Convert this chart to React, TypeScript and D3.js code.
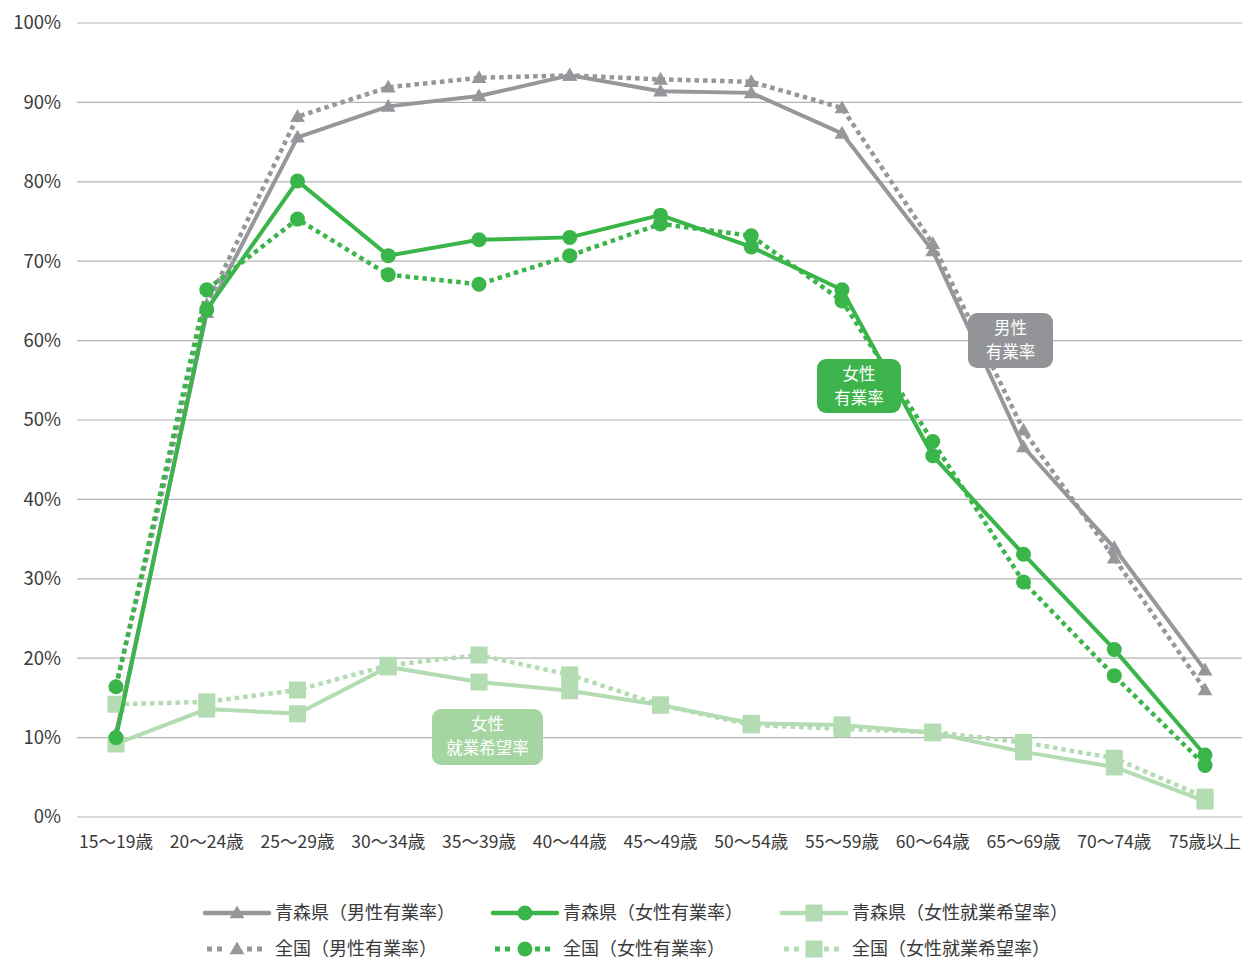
import React from "react";
import * as d3 from "d3";

const ageGroups = ["15～19歳", "20～24歳", "25～29歳", "30～34歳", "35～39歳", "40～44歳", "45～49歳", "50～54歳", "55～59歳", "60～64歳", "65～69歳", "70～74歳", "75歳以上"];

const aomoriMale = [10.5, 63.5, 85.6, 89.5, 90.8, 93.4, 91.4, 91.2, 86.1, 71.3, 46.6, 33.9, 18.5];
const nationalMale = [16.5, 64.5, 88.2, 91.9, 93.1, 93.4, 92.9, 92.6, 89.3, 72.2, 48.7, 32.6, 16.0];
const aomoriFemale = [10.0, 63.9, 80.1, 70.7, 72.7, 73.0, 75.8, 71.8, 66.4, 45.5, 33.1, 21.1, 7.8];
const nationalFemale = [16.4, 66.4, 75.3, 68.3, 67.1, 70.7, 74.7, 73.2, 65.0, 47.3, 29.6, 17.8, 6.5];
const aomoriFemaleDesire = [9.2, 13.6, 13.0, 18.9, 17.0, 15.9, 14.1, 11.8, 11.6, 10.6, 8.2, 6.3, 2.0];
const nationalFemaleDesire = [14.2, 14.5, 16.0, 19.1, 20.4, 17.9, 14.1, 11.6, 11.1, 10.7, 9.4, 7.4, 2.5];

const yTicks = [0, 10, 20, 30, 40, 50, 60, 70, 80, 90, 100];

const GRAY = "#96979a";
const GREEN = "#3ab54a";
const LIGHT = "#b3dcb3";

type Marker = "triangle" | "circle" | "square";
interface Series {
  name: string;
  values: number[];
  color: string;
  dotted: boolean;
  marker: Marker;
}

const series: Series[] = [
  { name: "青森県（男性有業率）", values: aomoriMale, color: GRAY, dotted: false, marker: "triangle" },
  { name: "全国（男性有業率）", values: nationalMale, color: GRAY, dotted: true, marker: "triangle" },
  { name: "青森県（女性就業希望率）", values: aomoriFemaleDesire, color: LIGHT, dotted: false, marker: "square" },
  { name: "全国（女性就業希望率）", values: nationalFemaleDesire, color: LIGHT, dotted: true, marker: "square" },
  { name: "青森県（女性有業率）", values: aomoriFemale, color: GREEN, dotted: false, marker: "circle" },
  { name: "全国（女性有業率）", values: nationalFemale, color: GREEN, dotted: true, marker: "circle" },
];

const legendOrder = [
  "青森県（男性有業率）", "青森県（女性有業率）", "青森県（女性就業希望率）",
  "全国（男性有業率）", "全国（女性有業率）", "全国（女性就業希望率）",
];

const FONT = "'Noto Sans CJK JP', 'Noto Sans', sans-serif";

function MarkerShape({ kind, x, y, color }: { kind: Marker; x: number; y: number; color: string }) {
  if (kind === "circle") return <circle cx={x} cy={y} r={7.5} fill={color} />;
  if (kind === "square") return <rect x={x - 8.5} y={y - 8.5} width={17} height={17} fill={color} />;
  const s = d3.symbol().type(d3.symbolTriangle).size(95)();
  return <path d={s || ""} transform={`translate(${x},${y + 1})`} fill={color} />;
}

function Callout({ x, y, w, h, fill, lines }: { x: number; y: number; w: number; h: number; fill: string; lines: string[] }) {
  return (
    <g>
      <rect x={x} y={y} width={w} height={h} rx={9} fill={fill} />
      {lines.map((t, i) => (
        <text key={i} x={x + w / 2} y={y + 15 + i * 24} textAnchor="middle" fontSize={16.5} fill="#fff" dy="0.35em">
          {t}
        </text>
      ))}
    </g>
  );
}

export default function App() {
  const width = 1242;
  const height = 960;
  const x = d3.scalePoint<string>().domain(ageGroups).range([116, 1205]);
  const y = d3.scaleLinear().domain([0, 100]).range([817, 23]);
  const line = d3
    .line<number>()
    .x((_, i) => x(ageGroups[i]) as number)
    .y((v) => y(v));

  const legendX = [205, 493, 782];
  const legendY = [913, 949];

  return (
    <svg width={width} height={height} style={{ position: "absolute", left: 0, top: 0, background: "#fff" }} fontFamily={FONT}>
      {/* grid and y axis */}
      {yTicks.map((t) => (
        <g key={t}>
          <line x1={77} x2={1242} y1={y(t)} y2={y(t)} stroke="#b3b3b3" strokeWidth={1.2} />
          <text x={61} y={y(t)} dy="0.35em" textAnchor="end" fontSize={18.5} fill="#3a3a3a">
            {t}%
          </text>
        </g>
      ))}
      {/* x axis labels */}
      {ageGroups.map((c) => (
        <text key={c} x={x(c)} y={842} dy="0.35em" textAnchor="middle" fontSize={17.5} fill="#3a3a3a">
          {c}
        </text>
      ))}
      {/* lines */}
      {series.map((s) => (
        <g key={s.name}>
          <path
            d={line(s.values) || ""}
            fill="none"
            stroke={s.color}
            strokeWidth={s.dotted ? 4.5 : 4}
            strokeDasharray={s.dotted ? "4.5 4" : undefined}
          />
          {s.values.map((v, i) => (
            <MarkerShape key={i} kind={s.marker} x={x(ageGroups[i]) as number} y={y(v)} color={s.color} />
          ))}
        </g>
      ))}
      {/* callout labels */}
      <Callout x={968} y={313} w={85} h={55} fill="#939497" lines={["男性", "有業率"]} />
      <Callout x={817} y={359} w={84} h={54} fill="#3cb44b" lines={["女性", "有業率"]} />
      <Callout x={432} y={709} w={111} h={56} fill="#a5d6a2" lines={["女性", "就業希望率"]} />
      {/* legend */}
      {legendOrder.map((name, idx) => {
        const s = series.find((d) => d.name === name)!;
        const lx = legendX[idx % 3];
        const ly = legendY[Math.floor(idx / 3)];
        return (
          <g key={name}>
            {s.dotted ? (
              [lx + 2, lx + 12, lx + 42, lx + 52].map((px, k) => (
                <rect key={k} x={px} y={ly - 2.5} width={5} height={5} fill={s.color} />
              ))
            ) : (
              <line x1={lx} x2={lx + 64} y1={ly} y2={ly} stroke={s.color} strokeWidth={4.5} strokeLinecap="round" />
            )}
            <MarkerShape kind={s.marker} x={lx + 32} y={ly} color={s.color} />
            <text x={lx + 70} y={ly} dy="0.35em" fontSize={18} fill="#3a3a3a">
              {name}
            </text>
          </g>
        );
      })}
    </svg>
  );
}
